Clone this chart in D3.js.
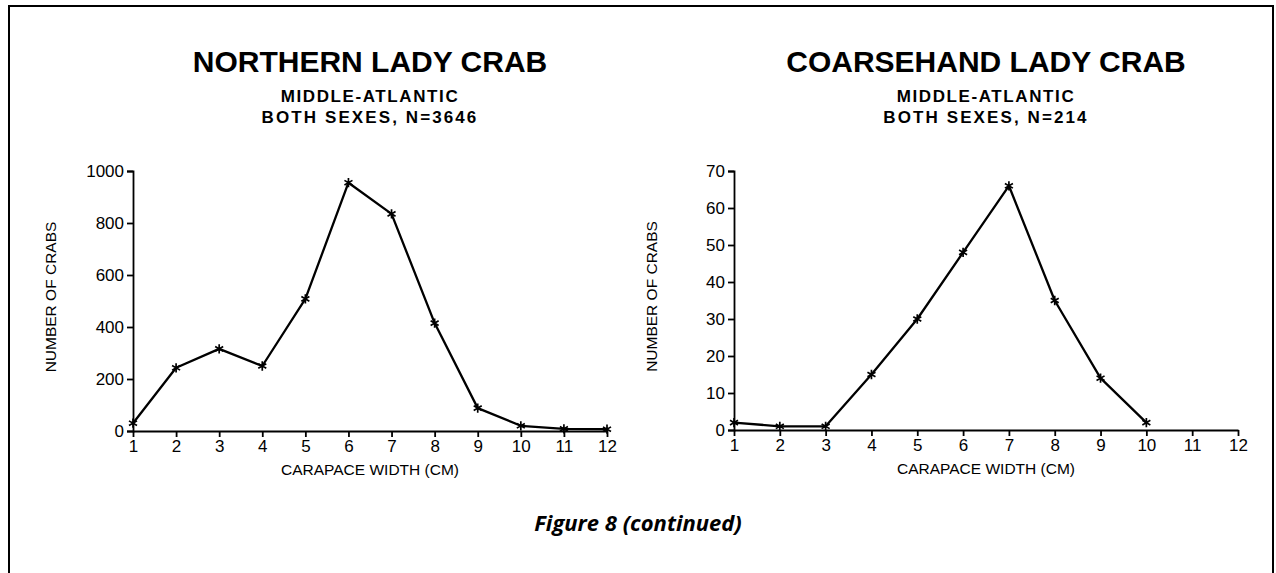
<!DOCTYPE html>
<html>
<head>
<meta charset="utf-8">
<script src="https://cdn.jsdelivr.net/npm/d3@7"></script>
<style>
  html, body { margin: 0; padding: 0; background: #fff; }
  svg { display: block; font-family: "Liberation Sans", Arial, sans-serif; }
</style>
</head>
<body>
<script>
// carapace width classes (cm)
const widths = [1, 2, 3, 4, 5, 6, 7, 8, 9, 10, 11, 12];

// northern lady crab counts, middle-atlantic, both sexes
const northernCounts = [30, 243, 316, 250, 508, 955, 835, 415, 88, 20, 8, 7];
// coarsehand lady crab counts (no crabs above 10 cm)
const coarseWidths = [1, 2, 3, 4, 5, 6, 7, 8, 9, 10];
const coarseCounts = [2, 1, 1, 15, 30, 48, 66, 35, 14, 2];

const northernTicks = [0, 200, 400, 600, 800, 1000];
const coarseTicks = [0, 10, 20, 30, 40, 50, 60, 70];

const width = 1276;
const height = 573;

const svg = d3.select("body").append("svg")
	.attr("width", width)
	.attr("height", height);

// page frame (open at the bottom, like the scanned page)
svg.append("path")
	.attr("d", "M9,573V6H1273V573")
	.attr("fill", "none")
	.attr("stroke", "#000")
	.attr("stroke-width", 2);

function panel(opts) {
	const x = d3.scaleLinear().domain([1, 12]).range([opts.left, opts.right]);
	const y = d3.scaleLinear().domain([0, opts.ymax]).range([opts.bottom, opts.top]);
	const cx = (opts.left + opts.right) / 2;

	const g = svg.append("g");

	// titles
	g.append("text")
		.attr("x", cx).attr("y", 72)
		.attr("text-anchor", "middle")
		.attr("font-size", 30)
		.attr("font-weight", "bold")
		.text(opts.title);
	g.append("text")
		.attr("x", cx).attr("y", 102)
		.attr("text-anchor", "middle")
		.attr("font-size", 17)
		.attr("font-weight", "bold")
		.attr("letter-spacing", 1.6)
		.text("MIDDLE-ATLANTIC");
	g.append("text")
		.attr("x", cx).attr("y", 123)
		.attr("text-anchor", "middle")
		.attr("font-size", 17)
		.attr("font-weight", "bold")
		.attr("letter-spacing", 2.1)
		.text(opts.subtitle);

	// axes
	const xAxis = g.append("g")
		.attr("transform", `translate(0,${opts.bottom})`)
		.call(d3.axisBottom(x).tickValues(widths).tickFormat(d3.format("d"))
			.tickSize(6).tickSizeOuter(0).tickPadding(3));
	const yAxis = g.append("g")
		.attr("transform", `translate(${opts.left},0)`)
		.call(d3.axisLeft(y).tickValues(opts.ticks).tickFormat(d3.format("d"))
			.tickSize(6).tickSizeOuter(6).tickPadding(3));

	[xAxis, yAxis].forEach(a => {
		a.attr("font-size", 17).attr("font-family", "Liberation Sans, Arial, sans-serif");
		a.selectAll("path, line").attr("stroke", "#000").attr("stroke-width", 1.8);
		a.selectAll("text").attr("fill", "#000");
	});

	// axis titles
	g.append("text")
		.attr("x", cx).attr("y", opts.bottom + 44)
		.attr("text-anchor", "middle")
		.attr("font-size", 15.5)
		.text("CARAPACE WIDTH (CM)");
	g.append("text")
		.attr("transform", `translate(${opts.left - 77},${(opts.top + opts.bottom) / 2 - 4}) rotate(-90)`)
		.attr("text-anchor", "middle")
		.attr("font-size", 15.5)
		.text("NUMBER OF CRABS");

	// data line
	const pts = opts.xs.map((v, i) => [v, opts.counts[i]]);
	g.append("path")
		.datum(pts)
		.attr("fill", "none")
		.attr("stroke", "#000")
		.attr("stroke-width", 2.3)
		.attr("stroke-linejoin", "round")
		.attr("d", d3.line().x(d => x(d[0])).y(d => y(d[1])));

	g.append("g")
		.selectAll("path")
		.data(pts)
		.join("path")
		.attr("transform", d => `translate(${x(d[0])},${y(d[1])})`)
		.attr("d", d3.symbol(d3.symbolAsterisk, 60))
		.attr("fill", "none")
		.attr("stroke", "#000")
		.attr("stroke-width", 1.7);
}

panel({
	title: "NORTHERN LADY CRAB",
	subtitle: "BOTH SEXES, N=3646",
	left: 133, right: 607, top: 171, bottom: 431,
	ymax: 1000, ticks: northernTicks,
	xs: widths, counts: northernCounts
});

panel({
	title: "COARSEHAND LADY CRAB",
	subtitle: "BOTH SEXES, N=214",
	left: 734, right: 1238, top: 171, bottom: 430,
	ymax: 70, ticks: coarseTicks,
	xs: coarseWidths, counts: coarseCounts
});

// figure caption
svg.append("text")
	.attr("x", 638).attr("y", 531)
	.attr("text-anchor", "middle")
	.attr("font-family", "'Open Sans', sans-serif")
	.attr("font-size", 22)
	.attr("font-weight", "bold")
	.attr("font-style", "italic")
	.text("Figure 8 (continued)");
</script>
</body>
</html>
